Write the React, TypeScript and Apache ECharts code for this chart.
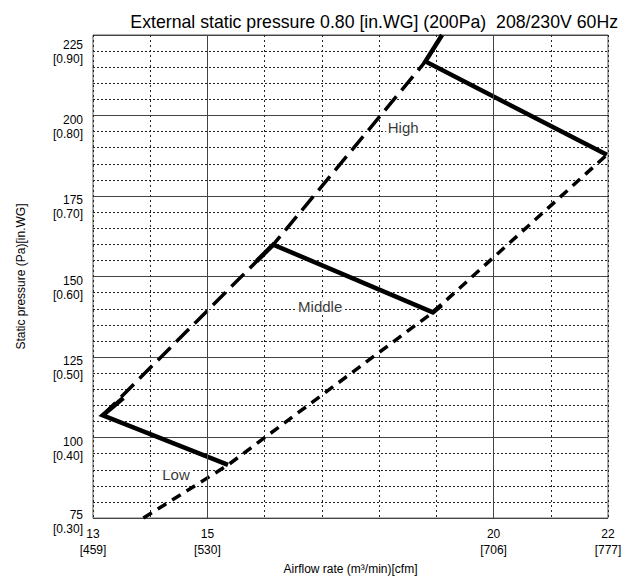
import React, { useEffect, useRef } from "react";
import * as echarts from "echarts";

const titleText = "External static pressure 0.80 [in.WG] (200Pa)  208/230V 60Hz";
const xName = "Airflow rate (m³/min)[cfm]";
const yName = "Static pressure (Pa)[in.WG]";

const xTickValues = [13, 15, 20, 22];
const xTickCfm = ["459", "530", "706", "777"];
const xSolidLines = [15, 20];

const yTickValues = [75, 100, 125, 150, 175, 200, 225];
const yTickInWG = ["0.30", "0.40", "0.50", "0.60", "0.70", "0.80", "0.90"];

const upperLimit: number[][] = [
  [13.17, 106.9],
  [16.15, 159.9],
  [18.81, 216.8],
];
const lowerLimit: number[][] = [
  [13.88, 75],
  [15.36, 91.5],
  [18.94, 138.9],
  [21.98, 187.8],
];
const lowCurve: number[][] = [
  [13.53, 112.3],
  [13.17, 106.9],
  [15.36, 91.5],
];
const middleCurve: number[][] = [
  [15.86, 154.8],
  [16.15, 159.9],
  [18.94, 138.9],
  [19.09, 141.1],
];
const highCurve: number[][] = [
  [19.1, 225],
  [18.81, 216.8],
  [21.98, 187.8],
];
const curveLabels = [
  { name: "High", value: [18.42, 196.4] },
  { name: "Middle", value: [16.97, 140.8] },
  { name: "Low", value: [14.45, 88.5] },
];

const FONT = "'Liberation Sans', Arial, Helvetica, sans-serif";

export default function App() {
  const ref = useRef<HTMLDivElement>(null);
  useEffect(() => {
    document.body.style.margin = "0";
    if (!ref.current) return;
    const chart = echarts.init(ref.current, null, { renderer: "svg" });
    const solidCurve = (data: number[][]) => ({
      type: "line",
      data,
      symbol: "none",
      lineStyle: { color: "#000", width: 4.5, type: "solid", cap: "butt", join: "miter" },
      silent: true,
      z: 4,
    });
    const tok = { fontFamily: FONT, fontSize: 12, color: "#000", lineHeight: 14, align: "right" };
    chart.setOption({
      animation: false,
      textStyle: { fontFamily: FONT },
      title: {
        text: titleText,
        right: 9,
        top: 8,
        textStyle: { fontFamily: FONT, fontSize: 17.7, fontWeight: "normal", color: "#000" },
      },
      grid: {
        left: 93,
        right: 24,
        top: 35,
        bottom: 57,
        show: true,
        borderColor: "#555",
        borderWidth: 1,
        backgroundColor: "transparent",
      },
      xAxis: {
        type: "value",
        min: 13,
        max: 22,
        interval: 1,
        name: xName,
        nameLocation: "middle",
        nameGap: 36,
        nameTextStyle: { fontFamily: FONT, fontSize: 12, color: "#000" },
        axisLine: { show: false },
        axisTick: { show: false },
        axisLabel: {
          fontFamily: FONT,
          fontSize: 12,
          color: "#000",
          lineHeight: 16,
          margin: 8,
          formatter: (v: number) => {
            const i = xTickValues.indexOf(v);
            return i >= 0 ? `${v}\n[${xTickCfm[i]}]` : "";
          },
        },
        splitLine: { show: true, lineStyle: { color: "#222", type: [2, 3], width: 1 } },
      },
      yAxis: {
        type: "value",
        min: 75,
        max: 225,
        interval: 25,
        name: yName,
        nameLocation: "middle",
        nameGap: 66,
        nameTextStyle: { fontFamily: FONT, fontSize: 12, color: "#000" },
        axisLine: { show: false },
        axisTick: { show: false },
        minorTick: { show: false, splitNumber: 5 },
        minorSplitLine: { show: true, lineStyle: { color: "#222", type: [2, 2], width: 1 } },
        axisLabel: {
          fontFamily: FONT,
          fontSize: 12,
          color: "#000",
          lineHeight: 14,
          margin: 10,
          align: "right",
          verticalAlign: "middle",
          rich: {
            t: tok,
            pb: { ...tok, lineHeight: 8 },
            pm: { ...tok, lineHeight: 22 },
            pt: { ...tok, lineHeight: 34 },
          },
          formatter: (v: number) => {
            const i = yTickValues.indexOf(v);
            if (i < 0) return "";
            const pad = i === 0 ? "pb" : i === yTickValues.length - 1 ? "pt" : "pm";
            return `{${pad}| }\n{t|${v}}\n{t|[${yTickInWG[i]}]}`;
          },
        },
        splitLine: { show: true, lineStyle: { color: "#444", type: "solid", width: 1 } },
      },
      series: [
        {
          type: "line",
          data: [],
          silent: true,
          markLine: {
            silent: true,
            symbol: "none",
            label: { show: false },
            lineStyle: { color: "#444", type: "solid", width: 1 },
            data: xSolidLines.map((x) => ({ xAxis: x })),
          },
        },
        {
          type: "line",
          data: upperLimit,
          symbol: "none",
          silent: true,
          lineStyle: { color: "#000", width: 3.5, type: [18, 8], cap: "butt" },
          z: 3,
        },
        {
          type: "line",
          data: lowerLimit,
          symbol: "none",
          silent: true,
          lineStyle: { color: "#000", width: 3.5, type: [10, 7], cap: "butt" },
          z: 3,
        },
        solidCurve(lowCurve),
        solidCurve(middleCurve),
        solidCurve(highCurve),
        {
          type: "scatter",
          data: curveLabels,
          symbolSize: 0,
          silent: true,
          z: 5,
          label: {
            show: true,
            position: "inside",
            formatter: (p: any) => p.name,
            fontFamily: FONT,
            fontSize: 15,
            color: "#000",
            backgroundColor: "#fff",
            padding: [0, 2],
          },
        },
      ],
    });
    return () => chart.dispose();
  }, []);
  return <div ref={ref} style={{ width: 632, height: 580 }} />;
}
